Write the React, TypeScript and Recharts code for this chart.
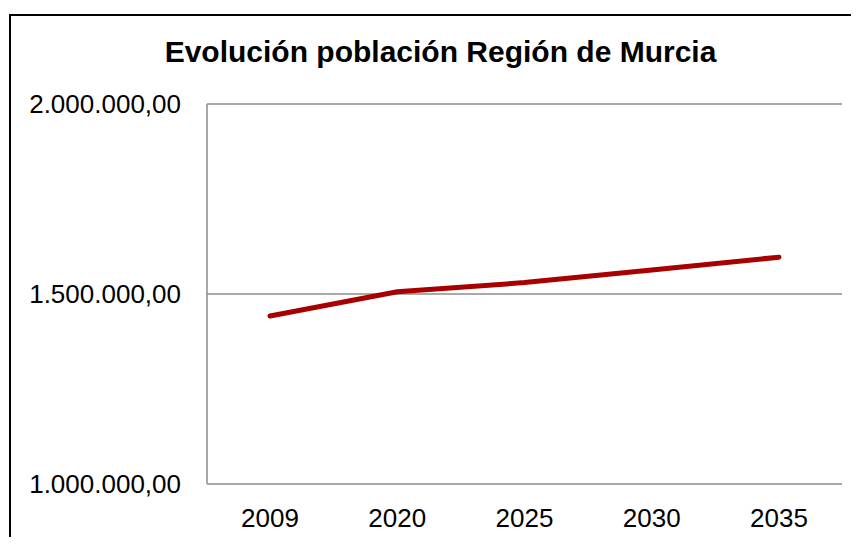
import { CartesianGrid, Line, LineChart, XAxis, YAxis } from "recharts";

const years = ["2009", "2020", "2025", "2030", "2035"];
const population = [1442000, 1506000, 1530000, 1563000, 1597000];
const yTicks = [1000000, 1500000, 2000000];

const rows = years.map((y, i) => ({ year: y, pop: population[i] }));

const FONT = "'Century Gothic', 'Liberation Sans', Arial, sans-serif";

const fmt = (v: number) =>
  v.toLocaleString("es-ES", { minimumFractionDigits: 2, maximumFractionDigits: 2, useGrouping: "always" } as Intl.NumberFormatOptions);

export default function App() {
  return (
    <div style={{ position: "relative", width: 859, height: 545, margin: -8, background: "#fff", overflow: "hidden", fontFamily: FONT }}>
      <div
        style={{
          position: "absolute",
          left: 9,
          top: 14,
          width: 848,
          height: 540,
          borderTop: "2px solid #000",
          borderLeft: "2px solid #000",
        }}
      />
      <div
        style={{
          position: "absolute",
          top: 35,
          left: 0,
          width: 881,
          textAlign: "center",
          fontWeight: 700,
          fontSize: 30,
          color: "#000",
        }}
      >
        Evolución población Región de Murcia
      </div>
      <LineChart width={859} height={545} data={rows} margin={{ top: 104, right: 17, bottom: 0, left: 8 }}>
        <CartesianGrid stroke="#8c8c8c" strokeWidth={1.5} vertical={false} />
        <XAxis
          dataKey="year"
          axisLine={false}
          tickLine={false}
          height={61}
          tickSize={0}
          tickMargin={25}
          padding={{ left: 63, right: 63 }}
          tick={{ fill: "#000", fontSize: 26, fontFamily: FONT }}
        />
        <YAxis
          width={199}
          domain={[1000000, 2000000]}
          ticks={yTicks}
          tickFormatter={fmt}
          axisLine={{ stroke: "#8c8c8c", strokeWidth: 1.5 }}
          tickLine={false}
          tickSize={0}
          tickMargin={26}
          tick={{ fill: "#000", fontSize: 26, fontFamily: FONT }}
        />
        <Line
          type="linear"
          dataKey="pop"
          stroke="#a80000"
          strokeWidth={5}
          strokeLinecap="round"
          dot={false}
          activeDot={false}
          isAnimationActive={false}
        />
      </LineChart>
    </div>
  );
}
